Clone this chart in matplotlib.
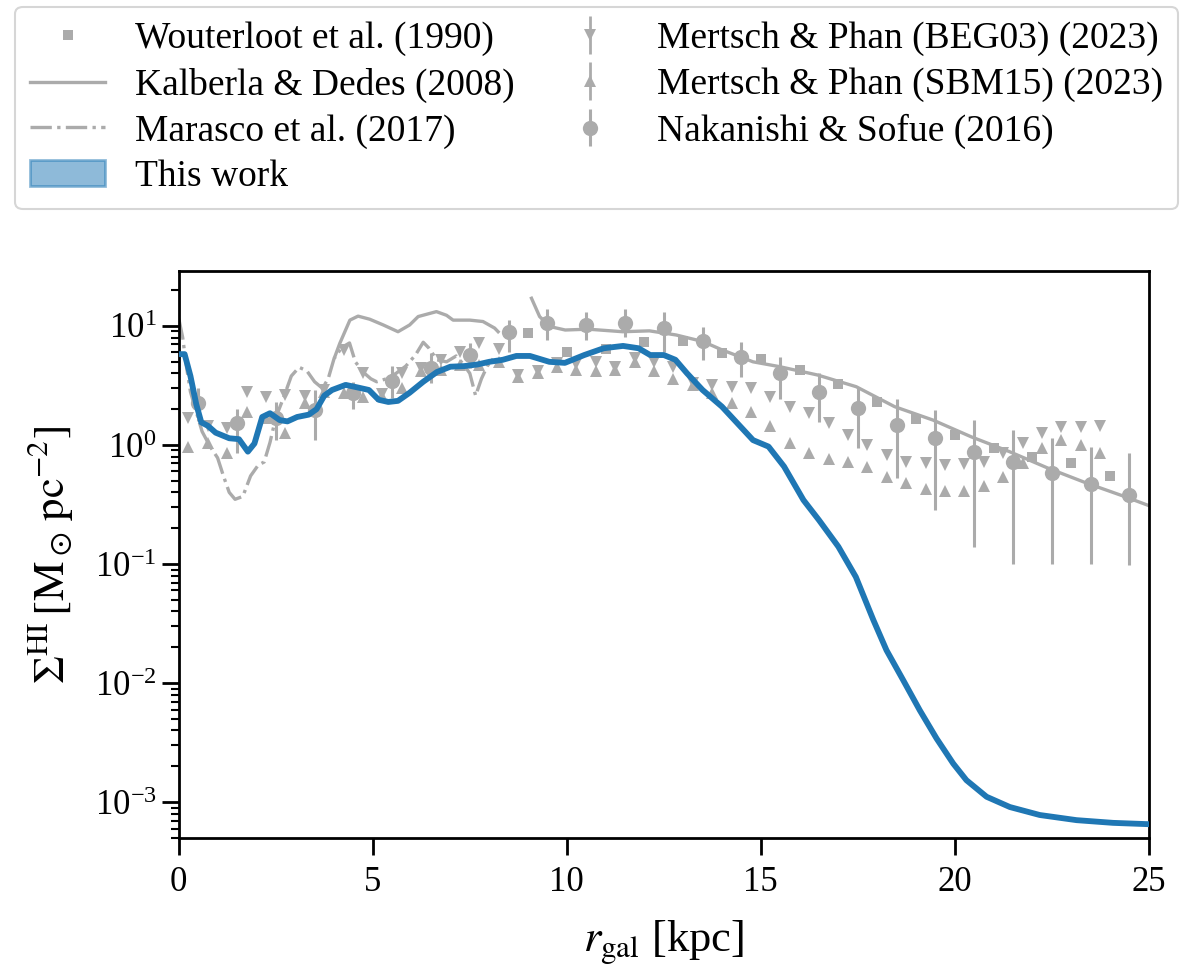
import matplotlib
matplotlib.use("Agg")
import matplotlib.pyplot as plt
from matplotlib.patches import Patch
import numpy as np

plt.rcParams['font.family'] = 'serif'
plt.rcParams['font.serif'] = ['Liberation Serif', 'DejaVu Serif']
plt.rcParams['mathtext.fontset'] = 'stix'

# --- This work (median profile)
r_this = [0.0, 0.15, 0.3, 0.45, 0.58, 0.75, 0.95, 1.3, 1.55, 1.78, 1.95, 2.15, 2.35, 2.6, 2.8,
          3.05, 3.35, 3.55, 3.75, 3.95, 4.3, 4.6, 4.9, 5.15, 5.4, 5.65, 5.95, 6.3, 6.65, 7.0,
          7.35, 7.7, 8.0, 8.35, 8.7, 9.05, 9.55, 9.95, 10.45, 10.95, 11.45, 11.85, 12.15, 12.5,
          12.8, 13.1, 13.5, 14.0, 14.4, 14.8, 15.2, 15.6, 16.1, 16.5, 17.0, 17.45, 17.9, 18.24,
          18.67, 19.1, 19.53, 19.96, 20.3, 20.82, 21.42, 22.19, 23.14, 24.08, 25.0]
s_this = [5.8, 5.8, 3.8, 2.2, 1.55, 1.45, 1.27, 1.14, 1.12, 0.88, 1.03, 1.72, 1.85, 1.62, 1.58,
          1.72, 1.8, 2.0, 2.6, 2.9, 3.2, 3.05, 2.9, 2.4, 2.3, 2.35, 2.75, 3.4, 4.1, 4.55,
          4.6, 4.75, 5.0, 5.2, 5.6, 5.6, 5.0, 4.9, 5.7, 6.5, 6.8, 6.5, 5.7, 5.7,
          5.2, 4.0, 2.9, 2.1, 1.52, 1.1, 0.97, 0.66, 0.345, 0.234, 0.14, 0.078, 0.034, 0.0189,
          0.0106, 0.0059, 0.00343, 0.00211, 0.00153, 0.00111, 0.00091, 0.00078, 0.000706, 0.00067, 0.000653]

# --- Wouterloot et al. (1990)
r_wout = [9, 10, 11, 12, 13, 14, 15, 16, 17, 18, 19, 20, 21, 22, 23, 24]
s_wout = [8.65, 6.1, 6.4, 7.4, 7.5, 5.9, 5.25, 4.27, 3.25, 2.31, 1.64, 1.21, 0.94, 0.80, 0.70, 0.55]

# --- Kalberla & Dedes (2008), two pieces
r_kalb = [4.02, 4.15, 4.28, 4.41, 4.62, 4.92, 5.27, 5.65, 5.95, 6.17, 6.64, 6.9, 7.07, 7.5, 7.84,
          8.14, 8.23, np.nan, 9.09, 9.3, 9.56, 9.96, 10.55, 11.44, 12.13, 12.82, 13.51, 14.0,
          14.8, 15.49, 16.47, 17.46, 18.45, 19.44, 20.43, 21.41, 22.4, 23.39, 24.37, 25.0]
s_kalb = [5.5, 7.15, 8.95, 11.2, 12.1, 11.4, 10.2, 8.95, 10.2, 12.0, 13.2, 12.3, 11.2, 11.2, 10.9,
          9.6, 8.95, np.nan, 17.1, 12.0, 9.9, 9.25, 9.4, 8.95, 9.1, 8.4, 7.4, 6.3,
          5.0, 4.55, 3.87, 3.09, 2.1, 1.62, 1.17, 0.88, 0.64, 0.48, 0.37, 0.31]

# --- Marasco et al. (2017)
r_mara = [0.0, 0.1, 0.2, 0.3, 0.45, 0.6, 0.8, 1.0, 1.15, 1.3, 1.45, 1.65, 1.85, 2.05, 2.2, 2.35,
          2.5, 2.7, 2.9, 3.1, 3.3, 3.5, 3.7, 3.85, 4.0, 4.2, 4.4, 4.55, 4.75, 4.95, 5.1, 5.35,
          5.6, 5.85, 6.1, 6.3, 6.45, 6.65, 6.9, 7.15, 7.35, 7.5, 7.65, 7.8, 7.95, 8.1]
s_mara = [11.5, 8.0, 4.5, 2.8, 1.9, 1.3, 0.98, 0.78, 0.55, 0.40, 0.35, 0.37, 0.55, 0.68, 0.72, 1.05,
          1.7, 2.5, 3.8, 4.5, 4.2, 3.4, 3.0, 3.6, 5.3, 6.6, 7.2, 5.0, 4.1, 3.6, 3.4, 3.6,
          4.0, 4.6, 5.7, 7.3, 6.5, 5.2, 5.0, 5.6, 4.7, 4.0, 2.6, 3.6, 4.6, 5.3]

# --- Mertsch & Phan (2023), BEG03 and SBM15
r_mp = [0.25, 0.75, 1.25, 1.75, 2.25, 2.75, 3.25, 3.75, 4.25, 4.75, 5.25, 5.75, 6.25, 6.75,
        7.25, 7.75, 8.25, 8.75, 9.25, 9.75, 10.25, 10.75, 11.25, 11.75, 12.25, 12.75, 13.25,
        13.75, 14.25, 14.75, 15.25, 15.75, 16.25, 16.75, 17.25, 17.75, 18.25, 18.75, 19.25,
        19.75, 20.25, 20.75, 21.25, 21.75, 22.25, 22.75, 23.25, 23.75]
s_beg = [1.7, 1.44, 1.38, 2.8, 2.55, 2.63, 2.6, 2.9, 6.3, 4.0, 2.7, 4.0, 4.4, 5.2,
         6.1, 7.15, 6.4, 3.9, 4.2, 4.9, 4.8, 4.95, 4.5, 5.35, 4.95, 4.5, 3.3,
         3.19, 3.09, 3.0, 2.55, 2.1, 1.85, 1.52, 1.21, 1.0, 0.82, 0.72, 0.70,
         0.68, 0.69, 0.72, 0.85, 1.03, 1.25, 1.43, 1.43, 1.44]
s_sbm = [0.97, 1.03, 0.85, 1.9, 1.7, 1.25, 2.24, 2.8, 2.72, 2.55, 2.6, 3.0, 4.2, 4.27,
         4.7, 4.7, 5.0, 3.7, 4.0, 4.5, 4.3, 4.2, 4.3, 5.0, 4.2, 3.6, 3.2,
         2.72, 2.24, 1.9, 1.44, 1.05, 0.86, 0.76, 0.72, 0.66, 0.54, 0.48, 0.43,
         0.41, 0.41, 0.45, 0.54, 0.70, 0.94, 1.1, 1.0, 0.85]
e_mp = [0.0] * len(r_mp)

# --- Nakanishi & Sofue (2016)
r_naka = [0.5, 1.5, 2.5, 3.5, 4.5, 5.5, 6.5, 7.5, 8.5, 9.5, 10.5, 11.5, 12.5, 13.5, 14.5, 15.5,
          16.5, 17.5, 18.5, 19.5, 20.5, 21.5, 22.5, 23.5, 24.5]
s_naka = [2.24, 1.52, 1.7, 1.97, 2.72, 3.45, 4.4, 5.7, 8.95, 10.5, 10.2, 10.6, 9.6, 7.5, 5.5, 4.0,
          2.8, 2.03, 1.47, 1.14, 0.88, 0.72, 0.58, 0.47, 0.38]
lo_naka = [1.6, 0.85, 1.1, 1.1, 2.0, 2.5, 3.3, 4.4, 6.0, 7.6, 7.6, 8.1, 6.1, 5.2, 3.75, 2.42,
           1.57, 0.94, 0.525, 0.284, 0.14, 0.1, 0.1, 0.1, 0.098]
hi_naka = [3.0, 2.0, 2.3, 2.9, 3.4, 4.6, 5.9, 7.2, 11.2, 13.8, 13.2, 13.8, 13.0, 9.75, 7.4, 5.45,
           4.0, 3.1, 2.42, 1.97, 1.62, 1.35, 1.14, 0.97, 0.85]

grey = '#ababab'
blue = '#1f77b4'

fig = plt.figure(figsize=(12, 9.76), dpi=100)
ax = fig.add_axes([0.149, 0.1414, 0.8083, 0.581])

h_wout, = ax.plot(r_wout, s_wout, 's', color=grey, ms=7.5, mew=0, ls='none',
                  label='Wouterloot et al. (1990)')
h_kalb, = ax.plot(r_kalb, s_kalb, '-', color=grey, lw=2.4, label='Kalberla & Dedes (2008)')
h_mara, = ax.plot(r_mara, s_mara, '-.', color=grey, lw=2.4, label='Marasco et al. (2017)')
h_beg = ax.errorbar(r_mp, s_beg, yerr=e_mp, fmt='v', color=grey, ms=8, mew=0, elinewidth=2,
                    label='Mertsch & Phan (BEG03) (2023)')
h_sbm = ax.errorbar(r_mp, s_sbm, yerr=e_mp, fmt='^', color=grey, ms=8, mew=0, elinewidth=2,
                    label='Mertsch & Phan (SBM15) (2023)')
yerr_naka = [np.array(s_naka) - np.array(lo_naka), np.array(hi_naka) - np.array(s_naka)]
h_naka = ax.errorbar(r_naka, s_naka, yerr=yerr_naka, fmt='o', color=grey, ms=11, mew=0,
                     elinewidth=2.2, label='Nakanishi & Sofue (2016)')
ax.plot(r_this, s_this, '-', color=blue, lw=4.2, zorder=5)
h_this = Patch(facecolor=blue, alpha=0.5, edgecolor=blue, lw=2, label='This work')

ax.set_yscale('log')
ax.set_xlim(0, 25)
ax.set_ylim(5e-4, 29)
ax.set_xticks([0, 5, 10, 15, 20, 25])

for sp in ax.spines.values():
    sp.set_linewidth(2.0)
ax.tick_params(axis='both', which='major', length=12, width=2, labelsize=25)
ax.tick_params(axis='both', which='minor', length=6, width=1.5)
ax.tick_params(axis='x', pad=8)
ax.tick_params(axis='y', pad=4)

ax.set_xlabel(r'$r_{\rm gal}$ [kpc]', fontsize=32, labelpad=14)
ax.set_ylabel(r'$\Sigma^{\rm HI}\,[{\rm M}_\odot\,{\rm pc}^{-2}]$', fontsize=32, labelpad=14)

handles = [h_wout, h_kalb, h_mara, h_this, h_beg, h_sbm, h_naka]
leg = fig.legend(handles=handles, loc='upper left', bbox_to_anchor=(0.0125, 0.993),
                 ncol=2, fontsize=27, borderaxespad=0, columnspacing=1.0,
                 labelspacing=0.3, handletextpad=0.8, frameon=True)
leg.get_frame().set_linewidth(1.5)

fig.savefig('out.png', dpi=100)
